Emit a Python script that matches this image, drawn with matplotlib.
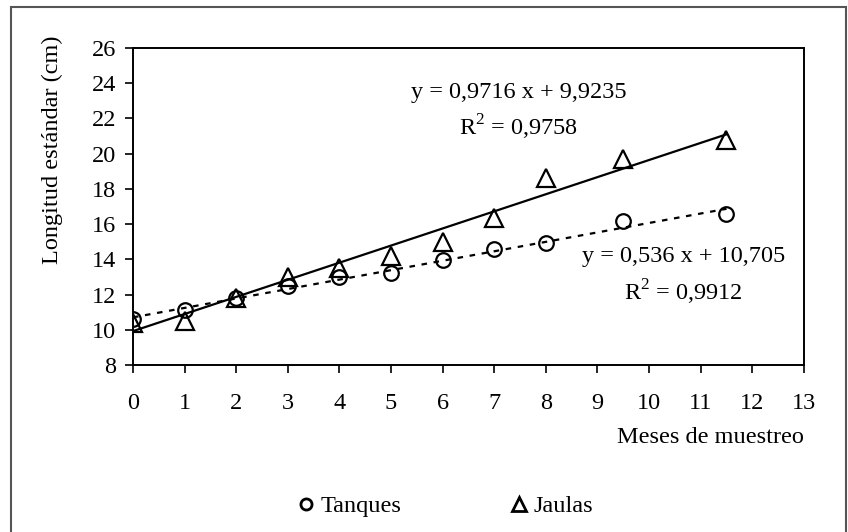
import matplotlib
matplotlib.use('Agg')
import matplotlib.pyplot as plt
from matplotlib.patches import Rectangle
from matplotlib.lines import Line2D
import numpy as np

plt.rcParams['font.family'] = ['Liberation Serif', 'DejaVu Serif']
plt.rcParams['mathtext.fontset'] = 'custom'
plt.rcParams['mathtext.rm'] = 'Liberation Serif'

# meses de muestreo
meses = [0, 1, 2, 3, 4, 5, 6, 7, 8, 9.5, 11.5]
# longitud estandar (cm)
tanques = [10.6, 11.1, 11.8, 12.5, 13.0, 13.2, 13.95, 14.6, 14.9, 16.2, 16.6]
jaulas = [10.4, 10.5, 11.8, 13.0, 13.5, 14.2, 15.0, 16.35, 18.6, 19.7, 20.8]

# tendencias lineales (pendiente, ordenada)
coef_tanques = (0.536, 10.705)
coef_jaulas = (0.9716, 9.9235)
eq_jaulas = ['y = 0,9716 x + 9,9235', 'R$^2$ = 0,9758']
eq_tanques = ['y = 0,536 x + 10,705', 'R$^2$ = 0,9912']

FS = 17.5

fig = plt.figure(figsize=(8.48, 5.32), dpi=100)
ax = fig.add_axes([0.1568, 0.3139, 0.7912, 0.5959])

# marco exterior
fig.patches.append(Rectangle((11/848, -0.05), 835/848, 1.05 - 7/532, transform=fig.transFigure,
                             fill=False, edgecolor='#555555', linewidth=1.5))

xx = np.array([meses[0], meses[-1]])
ax.plot(xx, coef_jaulas[0]*xx + coef_jaulas[1], color='black', lw=1.6, zorder=2)
ax.plot(xx, coef_tanques[0]*xx + coef_tanques[1], color='black', lw=1.6,
        linestyle=(0, (2.5, 3)), zorder=2)

ax.plot(meses, tanques, linestyle='none', marker='o', markersize=10.5, markerfacecolor='none',
        markeredgecolor='black', markeredgewidth=1.6, zorder=3)
ax.plot(meses, jaulas, linestyle='none', marker='^', markersize=12.5, markerfacecolor='none',
        markeredgecolor='black', markeredgewidth=1.6, zorder=3)

ax.set_xlim(0, 13)
ax.set_ylim(8, 26)
ax.set_xticks(range(0, 14))
ax.set_yticks(range(8, 27, 2))
for s in ax.spines.values():
    s.set_linewidth(1.4)
ax.tick_params(direction='out', length=6, width=1.2, labelsize=FS, pad=6)
ax.tick_params(axis='x', pad=14)

ax.set_ylabel('Longitud estándar (cm)', fontsize=FS)
ax.yaxis.set_label_coords(-0.104, 0.678)
ax.text(1.0, -0.23, 'Meses de muestreo', transform=ax.transAxes, ha='right', va='center', fontsize=FS)

ax.text(7.48, 23.45, eq_jaulas[0], ha='center', va='center', fontsize=FS)
ax.text(7.48, 21.47, eq_jaulas[1], ha='center', va='center', fontsize=FS)
ax.text(10.66, 14.14, eq_tanques[0], ha='center', va='center', fontsize=FS)
ax.text(10.66, 12.15, eq_tanques[1], ha='center', va='center', fontsize=FS)

handles = [Line2D([], [], linestyle='none', marker='o', markersize=8, markerfacecolor='none',
                  markeredgecolor='black', markeredgewidth=2),
           Line2D([], [], linestyle='none', marker='^', markersize=10, markerfacecolor='none',
                  markeredgecolor='black', markeredgewidth=2)]
fig.legend(handles, ['Tanques', 'Jaulas'], loc='center', bbox_to_anchor=(0.523, 0.048),
           ncol=2, frameon=False, fontsize=FS, handletextpad=0.1, columnspacing=4.3,
           handlelength=1.0)

fig.savefig('out.png', dpi=100)
